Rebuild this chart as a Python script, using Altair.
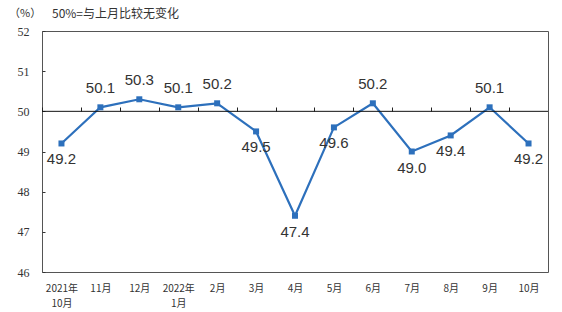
import altair as alt
import pandas as pd

months = ["2021年|10月", "11月", "12月", "2022年|1月", "2月", "3月", "4月",
          "5月", "6月", "7月", "8月", "9月", "10月"]
pmi = [49.2, 50.1, 50.3, 50.1, 50.2, 49.5, 47.4, 49.6, 50.2, 49.0, 49.4, 50.1, 49.2]
y_ticks = [46, 47, 48, 49, 50, 51, 52]
unit_text = "（%）"
note_text = "50%=与上月比较无变化"

df = pd.DataFrame({"m": months, "v": pmi})

blue = "#2D70BC"
W, H = 506, 241

xscale = alt.Scale(domain=months, padding=0.5)
yscale = alt.Scale(domain=[46, 52], nice=False, zero=False)

base = alt.Chart(df)

X0 = alt.X("m:N", sort=None, scale=xscale, axis=None)
Y0 = alt.Y("v:Q", scale=yscale, axis=None)

line = base.mark_line(color=blue, strokeWidth=2.2).encode(
    x=alt.X("m:N", sort=None, scale=xscale, title=None,
            axis=alt.Axis(orient="bottom", ticks=False, domain=False, labelAngle=0,
                          labelExpr="split(datum.label, '|')",
                          labelFont="Noto Sans CJK SC", labelFontSize=10,
                          labelColor="#333", labelPadding=11, labelLineHeight=15,
                          labelBaseline="top")),
    y=alt.Y("v:Q", scale=yscale, title=None,
            axis=alt.Axis(orient="left", values=y_ticks, ticks=False, domain=False,
                          grid=False, labelFont="Liberation Serif", labelFontSize=12,
                          labelColor="#333", labelPadding=13)),
)

ticks_layer = base.mark_point(opacity=0).encode(
    x=alt.X("m:N", sort=None, scale=xscale, title=None,
            axis=alt.Axis(orient="top", offset=-80, labels=False, domain=False,
                          ticks=True, tickSize=4, tickColor="#222", tickOffset=-19.5)),
    y=alt.Y("v:Q", scale=yscale, title=None,
            axis=alt.Axis(orient="right", offset=-W, labels=False, domain=False,
                          values=y_ticks, ticks=True, tickSize=3, tickColor="#333",
                          grid=False)),
)

ref = alt.Chart(pd.DataFrame({"r": [50]})).mark_rule(color="#111", strokeWidth=1).encode(
    y=alt.Y("r:Q", scale=yscale, axis=None)
)

pts = base.mark_point(shape="square", filled=True, color=blue, size=36, opacity=1).encode(
    x=X0, y=Y0,
)

lab_above = base.transform_filter("datum.v >= 50").mark_text(
    font="Liberation Sans", fontSize=15, color="#333", baseline="middle", dy=-19
).encode(x=X0, y=Y0, text=alt.Text("v:Q", format=".1f"))
lab_below = base.transform_filter("datum.v < 50").mark_text(
    font="Liberation Sans", fontSize=15, color="#333", baseline="middle", dy=16
).encode(x=X0, y=Y0, text=alt.Text("v:Q", format=".1f"))

unit = alt.Chart(pd.DataFrame({"t": [unit_text]})).mark_text(
    font="Noto Sans CJK SC", fontSize=11, color="#333", align="left", baseline="middle"
).encode(x=alt.value(-33), y=alt.value(-17), text="t:N")
note = alt.Chart(pd.DataFrame({"t": [note_text]})).mark_text(
    font="Noto Sans CJK SC", fontSize=12, color="#333", align="left", baseline="middle"
).encode(x=alt.value(10), y=alt.value(-17), text="t:N")

chart = alt.layer(line, ticks_layer, ref, pts, lab_above, lab_below, unit, note).resolve_axis(
    x="independent", y="independent"
).properties(
    width=W, height=H,
    padding={"left": 42, "top": 31, "right": 14, "bottom": 40},
    autosize=alt.AutoSizeParams(type="none"),
    background="white",
).configure_view(stroke="#555", strokeWidth=1)

chart.save("out.html", embed_options={"renderer": "svg", "actions": False})
